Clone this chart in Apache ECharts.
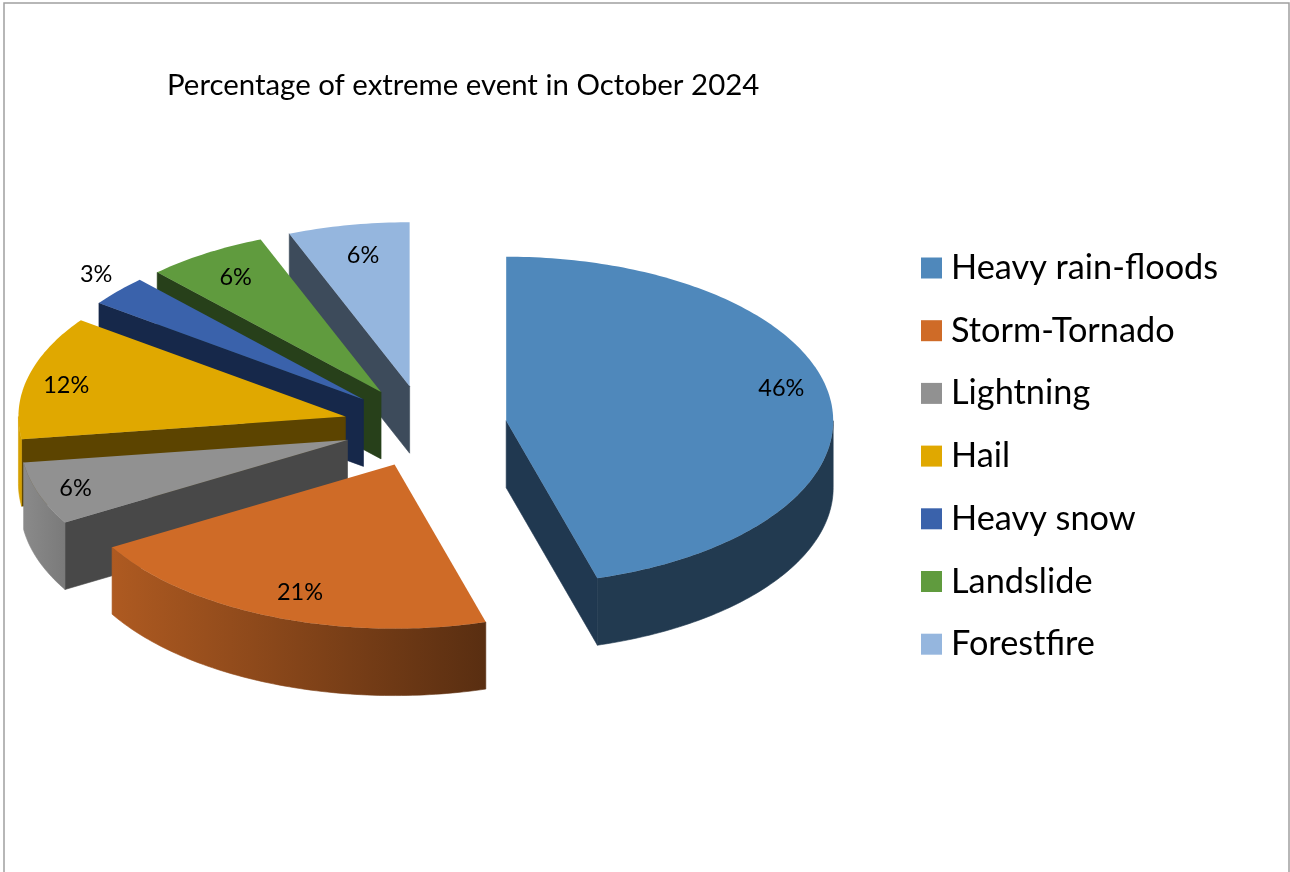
<!DOCTYPE html>
<html>
<head>
<meta charset="utf-8">
<style>html,body{margin:0;padding:0;background:#fff}#c{width:1290px;height:872px}</style>
<script src="https://cdn.jsdelivr.net/npm/echarts@6/dist/echarts.min.js"></script>
</head>
<body>
<div id="c"></div>
<script>
// Data
var titleText = 'Percentage of extreme event in October 2024';
var categories = ['Heavy rain-floods', 'Storm-Tornado', 'Lightning', 'Hail', 'Heavy snow', 'Landslide', 'Forestfire'];
var values = [45.5, 21.1, 6.2, 12.2, 3, 6, 6];

// Styles
var topColors = ['#4F88BB', '#CF6B27', '#919191', '#E0A800', '#3A62AB', '#609B3E', '#95B6DE'];
var faceColors = ['#203850', '#203850', '#484848', '#5C4400', '#16284A', '#27401A', '#3D4B5B'];
var FONT = 'Lato, Carlito, sans-serif';

// 3D pie projection
var CX = 425, CY = 426.5, RX = 327, RY = 164, DEPTH = 67, EXPLODE = 82;
var labelFx = [0.85, 0.78, 0.88, 0.88, 1.09, 0.83, 0.76];
var labelFy = [1.41, 0.84, 0.91, 0.77, 1.15, 0.83, 0.81];
var paintOrder = [7, 6, 5, 4, 3, 2, 1];

var total = values.reduce(function (a, b) { return a + b; }, 0);
var starts = [], acc = 0;
values.forEach(function (v) { starts.push(acc / total * 360); acc += v; });
function rad(d) { return d * Math.PI / 180; }
function shade(hex, f) {
  var n = parseInt(hex.slice(1), 16);
  var c = [n >> 16 & 255, n >> 8 & 255, n & 255].map(function (x) { return Math.round(x * f); });
  return 'rgb(' + c.join(',') + ')';
}
function wallFactor(th) {
  return Math.min(0.95, Math.max(0.43, 0.43 + (th - 165) * 0.0055));
}
function rim(ax, ay, th) { return [ax + RX * Math.sin(rad(th)), ay - RY * Math.cos(rad(th))]; }

function renderSlice(idx) {
  return function (params, api) {
    var v = api.value(0);
    var s = starts[idx], e = s + v / total * 360, m = (s + e) / 2;
    var ax = CX + EXPLODE * Math.sin(rad(m));
    var ay = CY - EXPLODE * 0.5 * Math.cos(rad(m));
    var children = [];
    // cut faces
    [[s, Math.sin(rad(s)) < 0], [e, Math.sin(rad(e)) > 0]].forEach(function (f) {
      if (!f[1]) return;
      var p = rim(ax, ay, f[0]);
      children.push({
        type: 'polygon', silent: true,
        shape: { points: [[ax, ay], p, [p[0], p[1] + DEPTH], [ax, ay + DEPTH]] },
        style: { fill: faceColors[idx], stroke: faceColors[idx], lineWidth: 0.6 }
      });
    });
    // outer wall
    var w0 = Math.max(s, 90), w1 = Math.min(e, 270);
    if (w1 > w0) {
      var upper = [], lower = [];
      for (var t = w0; t < w1; t += 1) { upper.push(rim(ax, ay, t)); }
      upper.push(rim(ax, ay, w1));
      upper.forEach(function (p) { lower.unshift([p[0], p[1] + DEPTH]); });
      var x0 = upper[0][0], x1 = upper[upper.length - 1][0];
      var wallFill = new echarts.graphic.LinearGradient(x0, 0, x1, 0, [
        { offset: 0, color: shade(topColors[idx], wallFactor(w0)) },
        { offset: 1, color: shade(topColors[idx], wallFactor(w1)) }
      ], true);
      children.push({
        type: 'polygon', silent: true,
        shape: { points: upper.concat(lower) },
        style: { fill: wallFill, stroke: wallFill, lineWidth: 0.6 }
      });
    }
    // top face
    var pts = [[ax, ay]];
    for (var a = s; a < e; a += 1) { pts.push(rim(ax, ay, a)); }
    pts.push(rim(ax, ay, e));
    children.push({
      type: 'polygon', silent: true,
      shape: { points: pts },
      style: { fill: topColors[idx] }
    });
    // data label
    children.push({
      type: 'text', silent: true,
      style: {
        x: ax + labelFx[idx] * RX * Math.sin(rad(m)),
        y: ay - labelFy[idx] * RY * Math.cos(rad(m)),
        text: Math.round(v / total * 100 + 1e-9) + '%',
        align: 'center', verticalAlign: 'middle',
        fill: '#000', font: '23.5px ' + FONT
      }
    });
    return { type: 'group', children: children };
  };
}

var series = categories.map(function (name, i) {
  return {
    type: 'custom',
    name: name,
    coordinateSystem: 'none',
    z: paintOrder[i],
    silent: true,
    itemStyle: { color: topColors[i] },
    renderItem: renderSlice(i),
    data: [[values[i]]]
  };
});

var chart = echarts.init(document.getElementById('c'), null, { renderer: 'canvas' });
chart.setOption({
  animation: false,
  backgroundColor: '#fff',
  title: {
    text: titleText, left: 167, top: 68, padding: 0,
    textStyle: { fontFamily: FONT, fontSize: 29.4, fontWeight: 'normal', color: '#000', lineHeight: 36 }
  },
  legend: {
    orient: 'vertical', left: 921, top: 250, padding: 0,
    icon: 'rect', itemWidth: 21, itemHeight: 21, itemGap: 26.7,
    selectedMode: false,
    data: categories,
    textStyle: { fontFamily: FONT, fontSize: 34.3, color: '#000', lineHeight: 36, padding: [0, 0, 0, 4] }
  },
  graphic: [{
    type: 'rect', silent: true, z: -1,
    shape: { x: 4, y: 3, width: 1285, height: 900 },
    style: { fill: 'transparent', stroke: '#a0a0a0', lineWidth: 1.5 }
  }],
  series: series
});
</script>
</body>
</html>
